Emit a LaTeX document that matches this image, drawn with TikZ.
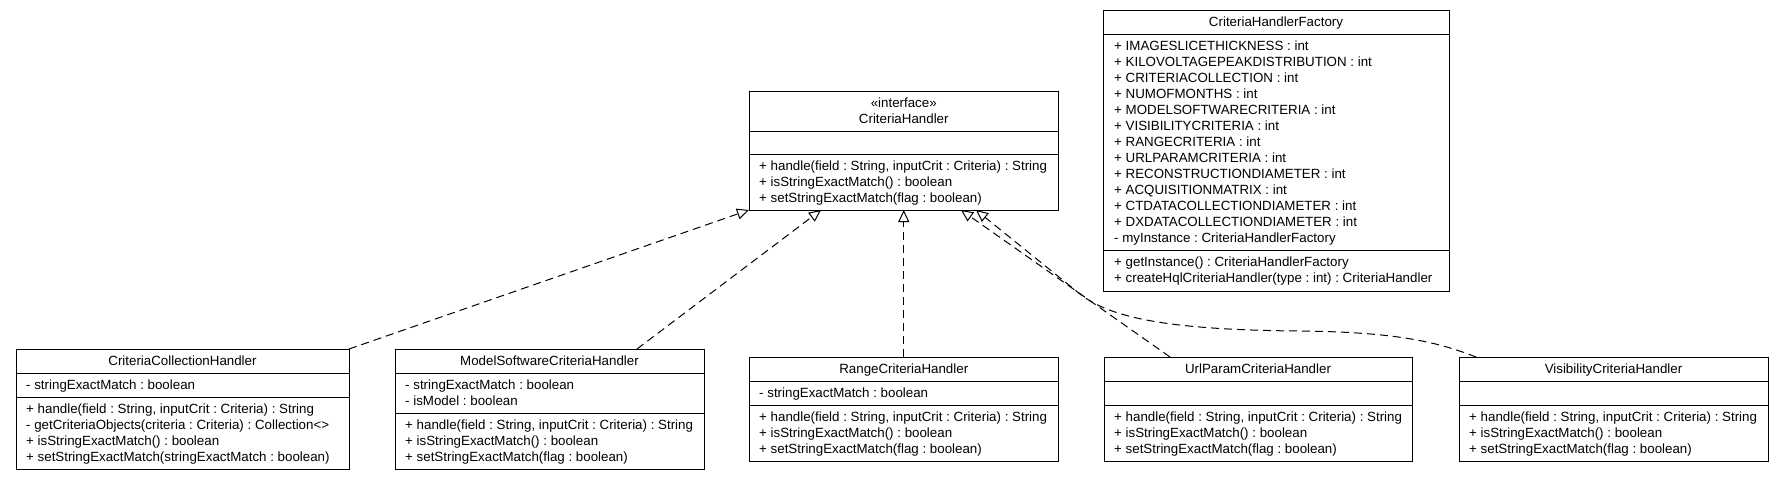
\documentclass[tikz,border=0pt]{standalone}
\usepackage{fontspec}
\setmainfont{Liberation Sans}
\usetikzlibrary{arrows.meta,calc}
\frenchspacing
\newcommand\umlfont{\fontsize{13.33pt}{16pt}\selectfont\frenchspacing}
\newcommand\memberlines[4]{%
  \foreach \t [count=\i] in {#4} {
    \node[mem] (#1-\i) at (#2, #3+16.5+16*\i-16) {\t};
  }}
\tikzset{
  x=1pt, y=-1pt,
  cls/.style={draw=black, line width=1pt, fill=white, inner sep=0pt, outer sep=0pt, anchor=north west},
  divider/.style={draw=black, line width=1pt},
  mem/.style={anchor=base west, inner sep=0pt, font=\umlfont, text=black},
  ttl/.style={anchor=base, inner sep=0pt, font=\umlfont, text=black},
  real/.style={draw=black, line width=1pt, dash pattern=on 8pt off 5pt,
    -{Triangle[open, length=12pt, width=11pt, line width=1pt]}},
}
\begin{document}
\begin{tikzpicture}
\useasboundingbox (0,0) rectangle (1784,480);
\fill[white] (0,0) rectangle (1784,480);

% CriteriaHandler
\node[cls, minimum width=309.5pt, minimum height=119pt] (ch) at (749,91) {};
\draw[divider] (ch.west |- 0,131) -- (ch.east |- 0,131);
\draw[divider] (ch.west |- 0,154) -- (ch.east |- 0,154);
\node[ttl] (ch-st) at (903.75,107.5) {«interface»};
\node[ttl] (ch-t) at (903.75,123.5) {CriteriaHandler};
\memberlines{chm}{759}{154}{{+ handle(field : String, inputCrit : Criteria) : String},{+ isStringExactMatch() : boolean},{+ setStringExactMatch(flag : boolean)}}

% CriteriaHandlerFactory
\node[cls, minimum width=346pt, minimum height=281pt] (fac) at (1103,10) {};
\draw[divider] (fac.west |- 0,34) -- (fac.east |- 0,34);
\draw[divider] (fac.west |- 0,250) -- (fac.east |- 0,250);
\node[ttl] (fac-t) at (1276,26.5) {CriteriaHandlerFactory};
\memberlines{faca}{1114}{34}{{+ IMAGESLICETHICKNESS : int},{+ KILOVOLTAGEPEAKDISTRIBUTION : int},{+ CRITERIACOLLECTION : int},{+ NUMOFMONTHS : int},{+ MODELSOFTWARECRITERIA : int},{+ VISIBILITYCRITERIA : int},{+ RANGECRITERIA : int},{+ URLPARAMCRITERIA : int},{+ RECONSTRUCTIONDIAMETER : int},{+ ACQUISITIONMATRIX : int},{+ CTDATACOLLECTIONDIAMETER : int},{+ DXDATACOLLECTIONDIAMETER : int},{- myInstance : CriteriaHandlerFactory}}
\memberlines{facm}{1114}{250}{{+ getInstance() : CriteriaHandlerFactory},{+ createHqlCriteriaHandler(type : int) : CriteriaHandler}}

% CriteriaCollectionHandler
\node[cls, minimum width=333pt, minimum height=120pt] (cch) at (16,349) {};
\draw[divider] (cch.west |- 0,373) -- (cch.east |- 0,373);
\draw[divider] (cch.west |- 0,397) -- (cch.east |- 0,397);
\node[ttl] (cch-t) at (182.5,365.5) {CriteriaCollectionHandler};
\memberlines{ccha}{26}{373}{{- stringExactMatch : boolean}}
\memberlines{cchm}{26}{397}{{+ handle(field : String, inputCrit : Criteria) : String},{- getCriteriaObjects(criteria : Criteria) : Collection<>},{+ isStringExactMatch() : boolean},{+ setStringExactMatch(stringExactMatch : boolean)}}

% ModelSoftwareCriteriaHandler
\node[cls, minimum width=309pt, minimum height=120pt] (msch) at (395,349) {};
\draw[divider] (msch.west |- 0,373) -- (msch.east |- 0,373);
\draw[divider] (msch.west |- 0,413) -- (msch.east |- 0,413);
\node[ttl] (msch-t) at (549.5,365.5) {ModelSoftwareCriteriaHandler};
\memberlines{mscha}{405}{373}{{- stringExactMatch : boolean},{- isModel : boolean}}
\memberlines{mschm}{405}{413}{{+ handle(field : String, inputCrit : Criteria) : String},{+ isStringExactMatch() : boolean},{+ setStringExactMatch(flag : boolean)}}

% RangeCriteriaHandler
\node[cls, minimum width=309.5pt, minimum height=104pt] (range) at (749,357) {};
\draw[divider] (range.west |- 0,381) -- (range.east |- 0,381);
\draw[divider] (range.west |- 0,405) -- (range.east |- 0,405);
\node[ttl] (range-t) at (903.75,373.5) {RangeCriteriaHandler};
\memberlines{rangea}{759}{381}{{- stringExactMatch : boolean}}
\memberlines{rangem}{759}{405}{{+ handle(field : String, inputCrit : Criteria) : String},{+ isStringExactMatch() : boolean},{+ setStringExactMatch(flag : boolean)}}

% UrlParamCriteriaHandler
\node[cls, minimum width=308pt, minimum height=104pt] (url) at (1104,357) {};
\draw[divider] (url.west |- 0,381) -- (url.east |- 0,381);
\draw[divider] (url.west |- 0,405) -- (url.east |- 0,405);
\node[ttl] (url-t) at (1258,373.5) {UrlParamCriteriaHandler};
\memberlines{urlm}{1114}{405}{{+ handle(field : String, inputCrit : Criteria) : String},{+ isStringExactMatch() : boolean},{+ setStringExactMatch(flag : boolean)}}

% VisibilityCriteriaHandler
\node[cls, minimum width=309pt, minimum height=104pt] (vis) at (1459,357) {};
\draw[divider] (vis.west |- 0,381) -- (vis.east |- 0,381);
\draw[divider] (vis.west |- 0,405) -- (vis.east |- 0,405);
\node[ttl] (vis-t) at (1613.5,373.5) {VisibilityCriteriaHandler};
\memberlines{vism}{1469}{405}{{+ handle(field : String, inputCrit : Criteria) : String},{+ isStringExactMatch() : boolean},{+ setStringExactMatch(flag : boolean)}}

% realizations
\draw[real] (cch.north east) -- (ch.south west);
\draw[real] ($(msch.north west)+(242,0)$) -- ($(ch.south west)+(72,0)$);
\draw[real] (range.north) -- (range.north |- ch.south);
\draw[real] ($(url.north west)+(66,0)$) -- ($(ch.south west)+(212,0)$);
\coordinate (vbend1) at (1300,331);
\coordinate (vbend2) at (1080,294);
\draw[real] ($(vis.north west)+(17,0)$) .. controls (1440,343) and (1400,332) .. (vbend1)
  .. controls (1170,330) and (1110,318) .. (vbend2) -- ($(ch.south west)+(227,0)$);
\end{tikzpicture}
\end{document}
